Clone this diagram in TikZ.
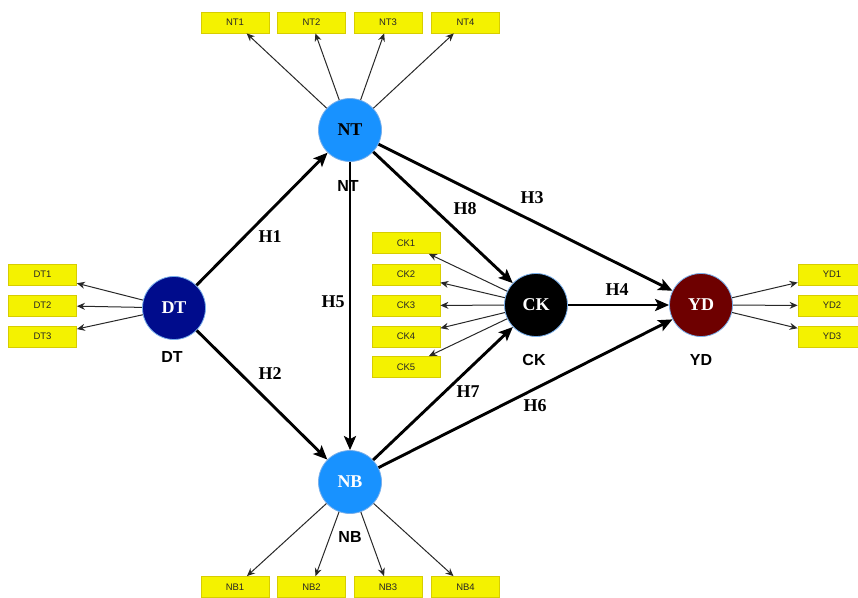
\documentclass[tikz,border=0pt]{standalone}
\usepackage{fontspec}
\setmainfont{Liberation Serif}
\setsansfont{Liberation Sans}
\usetikzlibrary{arrows.meta}
\definecolor{lvblue}{RGB}{24,146,255}
\definecolor{dtc}{RGB}{0,12,140}
\definecolor{ydc}{RGB}{110,0,0}
\definecolor{rim}{RGB}{120,175,235}
\definecolor{boxy}{RGB}{244,242,0}
\definecolor{boxb}{RGB}{215,205,0}
\definecolor{thin}{RGB}{40,40,40}
\begin{document}
\begin{tikzpicture}[x=1pt,y=-1pt,
 lv/.style={circle,draw=rim,line width=0.8pt,minimum size=63pt,inner sep=0pt,font=\fontsize{18}{18}\selectfont\bfseries},
 ind/.style={draw=boxb,fill=boxy,line width=0.8pt,minimum width=68pt,minimum height=21pt,inner sep=0pt,text=black!85,font=\sffamily\fontsize{9.5}{9.5}\selectfont},
 lvname/.style={font=\sffamily\bfseries\fontsize{16}{16}\selectfont},
 hyp/.style={font=\bfseries\fontsize{18}{18}\selectfont},
 pth/.style={line width=2.9pt,-{Stealth[length=14pt,width=12pt,inset=3pt]}},
 ldg/.style={draw=thin,line width=1pt,-{Stealth[length=8pt,width=7pt]}}
]
\useasboundingbox (0,0) rectangle (858,597);
\clip (0,0) rectangle (858,597);

% latent variables
\node[lv,fill=lvblue,text=black] (NT) at (350,130) {NT};
\node[lv,fill=dtc,text=white] (DT) at (174,308) {DT};
\node[lv,fill=black,text=white] (CK) at (536,305) {CK};
\node[lv,fill=ydc,text=white] (YD) at (701,305) {YD};
\node[lv,fill=lvblue,text=white] (NB) at (350,482) {NB};

% indicators
\node[ind] (NT1) at (235,22.5) {NT1};
\node[ind] (NT2) at (311.5,22.5) {NT2};
\node[ind] (NT3) at (388,22.5) {NT3};
\node[ind] (NT4) at (465.5,22.5) {NT4};
\node[ind] (NB1) at (235,587) {NB1};
\node[ind] (NB2) at (311.5,587) {NB2};
\node[ind] (NB3) at (388,587) {NB3};
\node[ind] (NB4) at (465.5,587) {NB4};
\node[ind] (DT1) at (42.5,274.5) {DT1};
\node[ind] (DT2) at (42.5,305.5) {DT2};
\node[ind] (DT3) at (42.5,336.5) {DT3};
\node[ind] (CK1) at (406,243) {CK1};
\node[ind] (CK2) at (406,274.5) {CK2};
\node[ind] (CK3) at (406,305.5) {CK3};
\node[ind] (CK4) at (406,336.5) {CK4};
\node[ind] (CK5) at (406,367) {CK5};
\node[ind] (YD1) at (832,274.5) {YD1};
\node[ind] (YD2) at (832,305.5) {YD2};
\node[ind] (YD3) at (832,336.5) {YD3};

% loadings
\foreach \i in {1,2,3,4} {\draw[ldg] (NT) -- (NT\i); \draw[ldg] (NB) -- (NB\i);}
\foreach \i in {1,2,3} {\draw[ldg] (DT) -- (DT\i); \draw[ldg] (YD) -- (YD\i);}
\foreach \i in {1,2,3,4,5} {\draw[ldg] (CK) -- (CK\i);}

% structural paths
\draw[pth] (DT) -- (NT);
\draw[pth] (DT) -- (NB);
\draw[pth] (NT) -- (YD);
\draw[pth] (CK) -- (YD);
\draw[pth] (NT) -- (NB);
\draw[pth] (NB) -- (YD);
\draw[pth] (NB) -- (CK);
\draw[pth] (NT) -- (CK);

% hypothesis labels
\node[hyp] (h1) at (270,237) {H1};
\node[hyp] (h2) at (270,374) {H2};
\node[hyp] (h3) at (532,198) {H3};
\node[hyp] (h4) at (617,290) {H4};
\node[hyp] (h5) at (333,302) {H5};
\node[hyp] (h6) at (535,406) {H6};
\node[hyp] (h7) at (468,392) {H7};
\node[hyp] (h8) at (465,209) {H8};

% construct names
\node[lvname] (lNT) at (348,186) {NT};
\node[lvname] (lDT) at (172,357) {DT};
\node[lvname] (lCK) at (534,360) {CK};
\node[lvname] (lYD) at (701,360) {YD};
\node[lvname] (lNB) at (350,537) {NB};
\end{tikzpicture}
\end{document}
